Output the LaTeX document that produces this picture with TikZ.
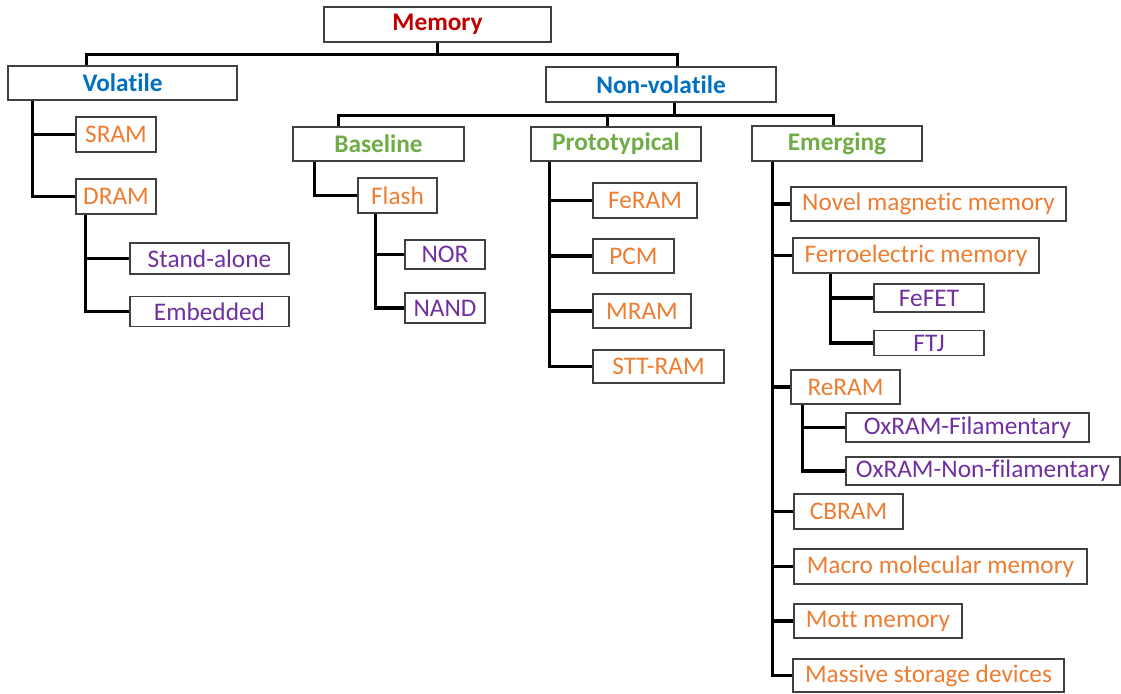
\documentclass[tikz,border=0pt]{standalone}
\usepackage{fontspec}
\setmainfont[RawFeature={-liga;-clig;-dlig}]{Carlito}
\usepackage{xcolor}
\usepackage{tikz}
\usetikzlibrary{calc}
\definecolor{memred}{HTML}{C00000}
\definecolor{memblue}{HTML}{0070C0}
\definecolor{memgreen}{HTML}{70AD47}
\definecolor{memorange}{HTML}{ED7D31}
\definecolor{mempurple}{HTML}{7030A0}
\definecolor{memframe}{HTML}{404040}

\begin{document}
\begin{tikzpicture}[
    x=0.75pt,y=-0.75pt,
    box/.style   = {draw=memframe, line width=0.9pt, fill=white, inner sep=0pt,
                    font=\fontsize{19}{22}\selectfont, align=center},
    wh/.style 2 args = {minimum width=#1*0.75pt, minimum height=#2*0.75pt},
    root/.style  = {box, text=memred, font=\fontsize{19}{22}\selectfont\bfseries},
    kind/.style  = {box, text=memblue, font=\fontsize{19}{22}\selectfont\bfseries},
    grp/.style   = {box, text=memgreen, font=\fontsize{19}{22}\selectfont\bfseries},
    tech/.style  = {box, text=memorange},
    sub/.style   = {box, text=mempurple},
    conn/.style  = {black, line width=2.6pt},
  ]

  \useasboundingbox (0,0) rectangle (1121,693);

  % top levels
  \node[root,wh={227}{35}] (memory)   at (437.5, 24.5) {Memory};
  \node[kind,wh={229}{34}] (volatile) at (122.5, 83)   {Volatile};
  \node[kind,wh={230}{35}] (nonvol)   at (661, 84.5)   {Non-volatile};

  % volatile side
  \node[tech,wh={80}{35}]  (sram)   at (116, 134.5)   {SRAM};
  \node[tech,wh={80}{35}]  (dram)   at (116, 196.5)   {DRAM};
  \node[sub,wh={159}{31}]  (stand)  at (209.5, 258.5) {Stand-alone};
  \node[sub,wh={159}{30}]  (embed)  at (209.5, 311.5) {Embedded};

  % non-volatile groups
  \node[grp,wh={171}{34}]  (base)   at (378.5, 144)   {Baseline};
  \node[grp,wh={170}{34}]  (proto)  at (616, 144)     {Prototypical};
  \node[grp,wh={170}{35}]  (emerg)  at (837, 143.5)   {Emerging};

  \node[tech,wh={79}{35}]  (flash)  at (397.5, 195.5) {Flash};
  \node[sub,wh={80}{29}]   (nor)    at (445, 254.5)   {NOR};
  \node[sub,wh={80}{30}]   (nand)   at (445, 308)     {NAND};

  \node[tech,wh={104}{35}] (feram)  at (645, 200.5)   {FeRAM};
  \node[tech,wh={81}{34}]  (pcm)    at (633.5, 256)   {PCM};
  \node[tech,wh={98}{34}]  (mram)   at (642, 311)     {MRAM};
  \node[tech,wh={131}{33}] (stt)    at (658.5, 366.5) {STT-RAM};

  \node[tech,wh={275}{34}] (novel)  at (928.5, 204)   {Novel magnetic memory};
  \node[tech,wh={246}{35}] (ferro)  at (916, 255.5)   {Ferroelectric memory};
  \node[sub,wh={110}{28}]  (fefet)  at (929, 298)     {FeFET};
  \node[sub,wh={110}{25}]  (ftj)    at (929, 343)     {FTJ};
  \node[tech,wh={109}{34}] (reram)  at (845.5, 387)   {ReRAM};
  \node[sub,wh={243}{29}]  (oxfil)  at (967.5, 427.5) {OxRAM-Filamentary};
  \node[sub,wh={274}{28}]  (oxnon)  at (983, 471)     {OxRAM-Non-filamentary};
  \node[tech,wh={109}{35}] (cbram)  at (848.5, 511.5) {CBRAM};
  \node[tech,wh={293}{35}] (macro)  at (940.5, 566.5) {Macro molecular memory};
  \node[tech,wh={168}{34}] (mott)   at (878, 621)     {Mott memory};
  \node[tech,wh={271}{33}] (massive) at (928.5, 675.5) {Massive storage devices};

  % buses
  \draw[conn] (memory.south) -- ++(0,12) -| ($(volatile.north west)+(79,0)$);
  \draw[conn] (memory.south) -- ++(0,12) -| ($(nonvol.north west)+(132,0)$);
  \draw[conn] ($(nonvol.south)+(13.5,0)$) -- ++(0,13) -| ($(base.north west)+(46,0)$);
  \draw[conn] ($(nonvol.south)+(13.5,0)$) -- ++(0,13) -| ($(proto.north west)+(77,0)$);
  \draw[conn] ($(nonvol.south)+(13.5,0)$) -- ++(0,13) -| ($(emerg.north west)+(82,0)$);

  % trunks
  \foreach \c in {sram,dram}
    \draw[conn] ($(volatile.south west)+(25,0)$) |- (\c.west);
  \foreach \c in {stand,embed}
    \draw[conn] ($(dram.south west)+(10,0)$) |- (\c.west);
  \draw[conn] ($(base.south west)+(22,0)$) |- (flash.west);
  \foreach \c in {nor,nand}
    \draw[conn] ($(flash.south west)+(18,0)$) |- (\c.west);
  \foreach \c in {feram,pcm,mram,stt}
    \draw[conn] ($(proto.south west)+(19,0)$) |- (\c.west);
  \foreach \c in {novel,ferro,reram,cbram,macro,mott,massive}
    \draw[conn] ($(emerg.south west)+(21,0)$) |- (\c.west);
  \foreach \c in {fefet,ftj}
    \draw[conn] ($(ferro.south west)+(38,0)$) |- (\c.west);
  \foreach \c in {oxfil,oxnon}
    \draw[conn] ($(reram.south west)+(12,0)$) |- (\c.west);

\end{tikzpicture}
\end{document}
